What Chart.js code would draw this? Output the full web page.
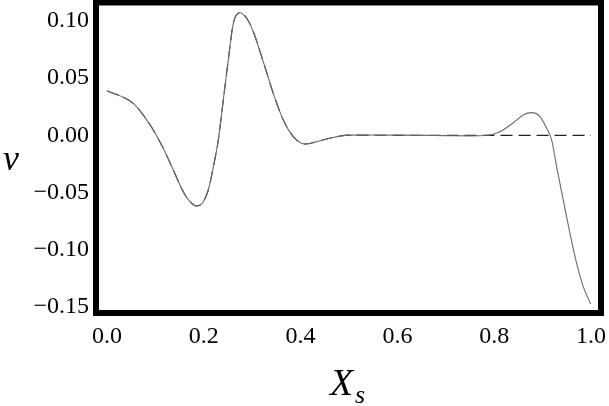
<!DOCTYPE html>
<html>
<head>
<meta charset="utf-8">
<script src="https://cdn.jsdelivr.net/npm/chart.js@4.4.0/dist/chart.umd.min.js"></script>
<style>
  html, body { margin: 0; padding: 0; background: #fff; }
  #wrap { width: 609px; height: 406px; }
</style>
</head>
<body>
<div id="wrap"><canvas id="myChart"></canvas></div>
<script>
// solid curve (full solution)
const solidX = [0, 0.0337, 0.0543, 0.075, 0.0957, 0.1163, 0.137, 0.1576, 0.1715, 0.1853, 0.199, 0.2093, 0.22, 0.23, 0.2403, 0.2506, 0.261, 0.2748, 0.2886, 0.3023, 0.3229, 0.3436, 0.3643, 0.385, 0.409, 0.4333, 0.46, 0.50, 0.55, 0.60, 0.65, 0.70, 0.75, 0.785, 0.812, 0.8395, 0.860, 0.8775, 0.8946, 0.9085, 0.9188, 0.929, 0.9428, 0.9566, 0.9704, 0.984, 0.9994]
const solidY = [0.0387, 0.0332, 0.028, 0.0177, 0.0046, -0.0114, -0.0303, -0.0493, -0.058, -0.0618, -0.058, -0.0478, -0.027, -0.0041, 0.0309, 0.0658, 0.0979, 0.1072, 0.1023, 0.0906, 0.0643, 0.0367, 0.0134, -0.0012, -0.0076, -0.0056, -0.0025, 0.0002, 0.0003, 0.0002, 0, -0.0003, -0.0005, 0, 0.0031, 0.011, 0.0177, 0.0198, 0.0163, 0.0061, -0.0041, -0.0274, -0.0566, -0.0857, -0.1119, -0.1323, -0.1475]

// dashed curve (approximation)
const dashX = [0, 0.0337, 0.0543, 0.075, 0.0957, 0.1163, 0.137, 0.1576, 0.1715, 0.1853, 0.199, 0.2093, 0.22, 0.23, 0.2403, 0.2506, 0.261, 0.2748, 0.2886, 0.3023, 0.3229, 0.3436, 0.3643, 0.385, 0.409, 0.4333, 0.46, 0.50, 0.60, 0.80, 1.0]
const dashY = [0.0387, 0.0332, 0.028, 0.0177, 0.0046, -0.0114, -0.0303, -0.0493, -0.058, -0.0618, -0.058, -0.0478, -0.027, -0.0041, 0.0309, 0.0658, 0.0979, 0.1072, 0.1023, 0.0906, 0.0643, 0.0367, 0.0134, -0.0012, -0.0076, -0.0056, -0.0025, 0.0002, 0, 0, 0]

const xTicks = [0, 0.2, 0.4, 0.6, 0.8, 1.0]
const yTicks = [-0.15, -0.10, -0.05, 0, 0.05, 0.10]

const toPts = (xs, ys) => xs.map((x, i) => ({ x: x, y: ys[i] }))
const serif = '"Liberation Serif", "Times New Roman", serif'

const noPad = s => {
  s.paddingTop = 0
  s.paddingBottom = 0
  s.paddingLeft = 0
  s.paddingRight = 0
}

const frame = {
  id: 'frame',
  afterDatasetsDraw(chart) {
    const a = chart.chartArea
    const c = chart.ctx
    c.save()
    c.strokeStyle = '#000'
    c.lineWidth = 6
    c.strokeRect(a.left, a.top, a.right - a.left, a.bottom - a.top)
    c.fillStyle = '#000'
    c.textAlign = 'left'
    c.textBaseline = 'alphabetic'
    c.font = 'italic 36px ' + serif
    c.fillText('v', 3, 170)
    c.font = 'italic 38px ' + serif
    c.fillText('X', 330, 395)
    c.font = 'italic 26px ' + serif
    c.fillText('s', 355, 403)
    c.restore()
  }
}

const ctx = document.getElementById('myChart')

const myChart = new Chart(ctx, {
  type: 'line',
  data: {
    datasets: [{
      label: 'solid',
      data: toPts(solidX, solidY),
      borderColor: '#6a6a6a',
      borderWidth: 1.1,
      pointRadius: 0,
      cubicInterpolationMode: 'monotone',
      fill: false
    }, {
      label: 'dashed',
      data: toPts(dashX, dashY),
      borderColor: '#222',
      borderWidth: 1.1,
      borderDash: [12, 6],
      pointRadius: 0,
      cubicInterpolationMode: 'monotone',
      fill: false
    }]
  },
  options: {
    responsive: true,
    maintainAspectRatio: false,
    animation: false,
    layout: { padding: { top: 2.5, right: 8, left: 0, bottom: 0 } },
    plugins: {
      legend: { display: false },
      tooltip: { enabled: false }
    },
    scales: {
      x: {
        type: 'linear',
        min: -0.0227,
        max: 1.0207,
        grid: { display: false, drawTicks: false },
        border: { display: false },
        afterBuildTicks: s => { s.ticks = xTicks.map(v => ({ value: v })) },
        afterFit: s => { s.height = 93; noPad(s) },
        ticks: {
          padding: 9,
          color: '#000',
          maxRotation: 0,
          autoSkip: false,
          font: { family: serif, size: 24 },
          callback: v => v.toFixed(1)
        }
      },
      y: {
        type: 'linear',
        min: -0.1553,
        max: 0.1161,
        grid: { display: false, drawTicks: false },
        border: { display: false },
        afterBuildTicks: s => { s.ticks = yTicks.map(v => ({ value: v })) },
        afterFit: s => { s.width = 96; noPad(s) },
        ticks: {
          padding: 7,
          color: '#000',
          autoSkip: false,
          font: { family: serif, size: 24 },
          callback: v => (v < 0 ? '\u2212' : '') + Math.abs(v).toFixed(2)
        }
      }
    }
  },
  plugins: [frame]
})
</script>
</body>
</html>
